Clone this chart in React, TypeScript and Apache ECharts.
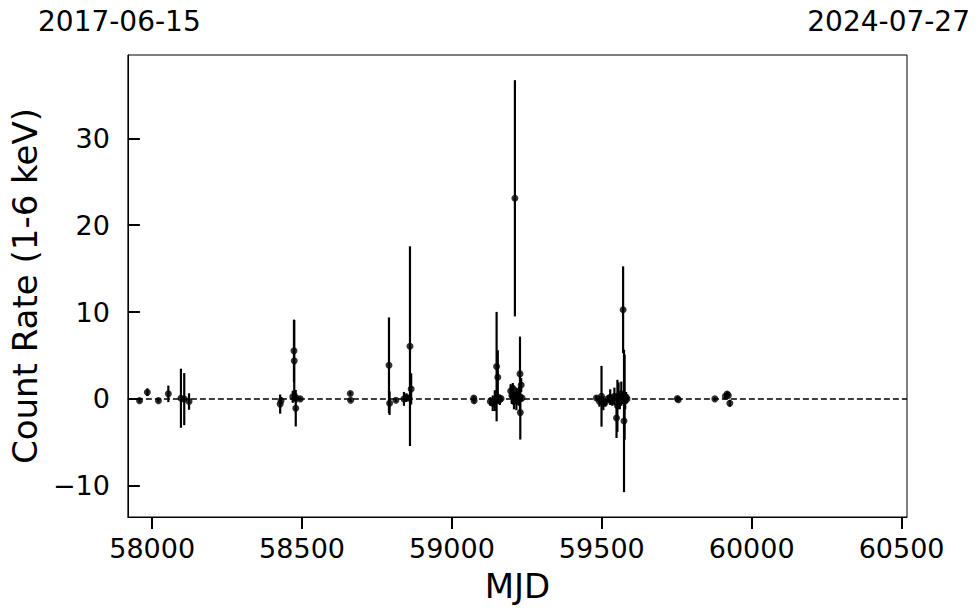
import React, { useEffect, useRef } from "react";
import * as echarts from "echarts";

const mjd = [
  57958, 57984, 58021, 58054, 58096, 58107, 58123,
  58427, 58430, 58469, 58473, 58474, 58479, 58481, 58494,
  58661, 58662, 58790, 58792, 58813, 58840, 58848, 58856, 58860, 58864,
  59073, 59074, 59128, 59136, 59143, 59148, 59149, 59153, 59156, 59160, 59164,
  59196, 59200, 59203, 59205, 59207, 59210, 59212, 59215, 59218, 59221, 59224, 59227, 59228, 59231, 59234,
  59482, 59492, 59499, 59505, 59512, 59520, 59528, 59535, 59542, 59549, 59552, 59556, 59560, 59565, 59570,
  59571, 59574, 59576, 59578, 59581, 59584,
  59752, 59755, 59877, 59912, 59918, 59922, 59927,
];
const rate = [
  -0.2, 0.77, -0.2, 0.58, 0.08, -0.03, -0.3,
  -0.6, -0.2, 0.25, 5.53, 4.38, -1.07, 0.1, 0.0,
  0.62, -0.15, 3.88, -0.5, -0.15, 0.0, 0.15, 0.1, 6.07, 1.15,
  0.1, -0.2, -0.3, -0.5, -0.2, 0.0, 3.72, 2.5, 0.1, -0.1, 0.05,
  0.9, 0.4, 1.23, 0.65, -0.3, 23.1, 0.2, 0.0, 0.5, -0.2, 0.3, 2.88, -1.58, 1.6, 0.1,
  0.1, -0.3, 0.3, -0.5, -0.4, 0.0, 0.2, -0.2, 0.3, -2.2, -0.8, 0.4, -0.3, 0.6, 0.1,
  10.26, -2.54, 0.2, -0.2, 0.2, 0.0,
  0.05, -0.1, 0.0, 0.3, 0.55, 0.4, -0.5,
];
const rateErr = [
  0.2, 0.45, 0.2, 0.95, 3.4, 3.0, 0.95,
  1.1, 0.4, 0.7, 3.6, 4.7, 2.1, 0.5, 0.2,
  0.2, 0.2, 5.5, 1.35, 0.2, 0.8, 0.5, 0.3, 11.5, 1.8,
  0.2, 0.3, 0.5, 0.9, 1.2, 0.5, 6.3, 3.1, 0.4, 0.6, 0.3,
  0.8, 1.0, 0.6, 0.9, 0.9, 13.6, 0.6, 1.3, 0.7, 0.5, 1.1, 4.3, 3.1, 0.8, 0.4,
  0.3, 0.6, 3.5, 0.8, 0.5, 0.4, 0.9, 0.6, 1.0, 2.3, 3.0, 1.5, 0.9, 1.4, 0.7,
  5.0, 8.2, 4.9, 1.0, 0.6, 0.5,
  0.2, 0.2, 0.2, 0.3, 0.3, 0.2, 0.4,
];

const xTicks = [58000, 58500, 59000, 59500, 60000, 60500];
const yTicks = [-10, 0, 10, 20, 30];
const xRange = [57919, 60518];
const yRange = [-13.6, 39.6];
const dateLabels = ["2017-06-15", "2024-07-27"];
const xTitle = "MJD";
const yTitle = "Count Rate (1-6 keV)";

const FONT = "DejaVu Sans";

export default function App() {
  const ref = useRef<HTMLDivElement>(null);
  useEffect(() => {
    const chart = echarts.init(ref.current as HTMLDivElement, null, { renderer: "svg" });
    const points = mjd.map((m, i) => [m, rate[i]]);
    const bars = mjd.map((m, i) => [m, rate[i] - rateErr[i], rate[i] + rateErr[i]]);
    const fmt = (v: number) => (v < 0 ? "\u2212" + Math.abs(v) : String(v));
    const tickStyle = { color: "#000", width: 2 };
    chart.setOption({
      animation: false,
      textStyle: { fontFamily: FONT, color: "#000" },
      grid: {
        left: 127,
        top: 55,
        width: 780,
        height: 462,
        show: true,
        borderColor: "#000",
        borderWidth: 1,
        backgroundColor: "transparent",
      },
      xAxis: {
        type: "value",
        position: "bottom",
        min: xRange[0],
        max: xRange[1],
        name: xTitle,
        nameLocation: "middle",
        nameGap: 52,
        nameTextStyle: { fontSize: 34, color: "#000", fontFamily: FONT },
        axisLine: { show: true, onZero: false, lineStyle: { color: "#000", width: 1 } },
        splitLine: { show: false },
        axisTick: {
          show: true,
          inside: false,
          customValues: xTicks,
          length: 12,
          lineStyle: tickStyle,
        },
        axisLabel: {
          customValues: xTicks,
          fontSize: 27,
          color: "#000",
          fontFamily: FONT,
          margin: 18,
          formatter: (v: number) => fmt(v),
        },
      },
      yAxis: {
        type: "value",
        position: "left",
        min: yRange[0],
        max: yRange[1],
        name: yTitle,
        nameLocation: "middle",
        nameGap: 80,
        nameTextStyle: { fontSize: 34, color: "#000", fontFamily: FONT },
        axisLine: { show: true, onZero: false, lineStyle: { color: "#000", width: 1 } },
        splitLine: { show: false },
        axisTick: {
          show: true,
          inside: true,
          customValues: yTicks,
          length: 12,
          lineStyle: tickStyle,
        },
        axisLabel: {
          customValues: yTicks,
          fontSize: 27,
          color: "#000",
          fontFamily: FONT,
          margin: 18,
          formatter: (v: number) => fmt(v),
        },
      },
      graphic: [
        {
          type: "text",
          left: 38,
          top: 7,
          style: { text: dateLabels[0], font: `28px "${FONT}"`, fill: "#000" },
        },
        {
          type: "text",
          right: 10,
          top: 7,
          style: { text: dateLabels[1], font: `28px "${FONT}"`, fill: "#000" },
        },
      ],
      series: [
        {
          type: "custom",
          z: 2,
          data: bars,
          encode: { x: 0, y: [1, 2] },
          renderItem: (params: any, api: any) => {
            const x = api.value(0);
            const lo = api.coord([x, api.value(1)]);
            const hi = api.coord([x, api.value(2)]);
            return {
              type: "line",
              shape: { x1: lo[0], y1: lo[1], x2: hi[0], y2: hi[1] },
              style: { stroke: "#000", lineWidth: 2.2 },
            };
          },
        },
        {
          type: "scatter",
          z: 3,
          data: points,
          symbol: "circle",
          symbolSize: 7,
          itemStyle: { color: "#000" },
          markLine: {
            silent: true,
            symbol: "none",
            label: { show: false },
            lineStyle: { color: "#000", type: [6, 3], width: 1.5 },
            data: [{ yAxis: 0 }],
          },
        },
      ],
    });
    return () => chart.dispose();
  }, []);
  return (
    <div
      ref={ref}
      style={{ position: "absolute", left: 0, top: 0, width: 980, height: 613 }}
    />
  );
}
